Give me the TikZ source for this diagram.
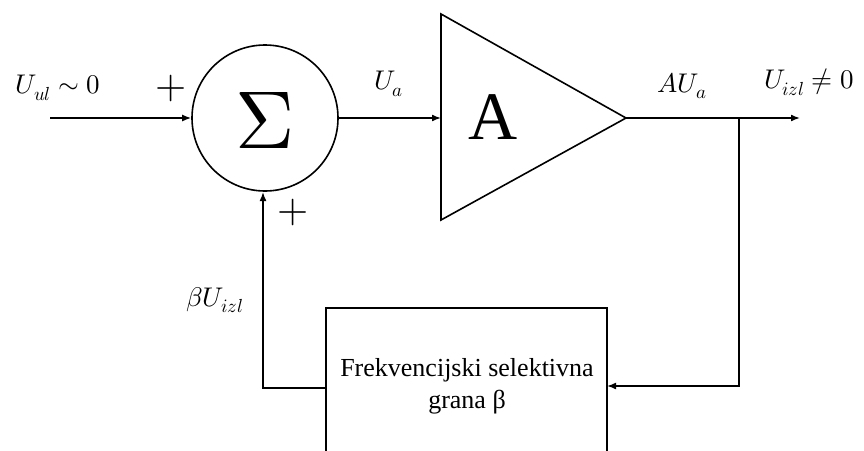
\documentclass[tikz,border=0pt]{standalone}
\usepackage{fontspec}
\usepackage{unicode-math}
\setmainfont{Liberation Serif}
\setmathfont{Latin Modern Math}
\usetikzlibrary{arrows.meta}
\begin{document}
\begin{tikzpicture}[x=1pt,y=-1pt,
  line/.style={line width=1.6pt},
  arr/.style={line width=1.6pt,-{Latex[length=9pt,width=7pt]}},
  lbl/.style={inner sep=0pt,font=\fontsize{27}{30}\selectfont},
  plus/.style={inner sep=0pt,font=\fontsize{40}{40}\selectfont}]
\useasboundingbox (0,0) rectangle (864,450);
% nodes
\node[draw,circle,line width=1.6pt,minimum size=146pt,inner sep=0pt] (sum) at (265,118) {};
\node[inner sep=0pt] (sig) at (265,120) {\fontsize{82}{82}\selectfont$\Sigma$};
\coordinate (tl) at (441,14);
\coordinate (tb) at (441,220);
\coordinate (tip) at (626,118);
\draw[line,line join=miter] (tl) -- (tip) -- (tb) -- cycle;
\coordinate (ain) at (441,118);
\node[inner sep=0pt] (A) at (493,117) {\fontsize{68}{68}\selectfont A};
\coordinate (box1) at (326,308);
\coordinate (box2) at (607,470);
\draw[line] (box1) rectangle (box2);
\node[inner sep=0pt,align=center,font=\fontsize{26}{32}\selectfont] (btxt) at (467,386) {Frekvencijski selektivna\\grana β};
\coordinate (in) at (50,118);
\coordinate (out) at (800,118);
\coordinate (junc) at (739,118);
\coordinate (jdown) at (739,386);
\coordinate (bin) at (607,386);
\coordinate (bout) at (326,388);
\coordinate (fbc) at (263,388);
% connectors
\draw[arr] (in) -- (sum.west);
\draw[arr] (sum.east) -- (ain);
\draw[arr] (tip) -- (out);
\draw[arr] (junc) -- (jdown) -- (bin);
\draw[arr] (bout) -- (fbc) -- (263,192);
% labels
\node[lbl] (lin) at (58,88) {$U_{ul}\sim 0$};
\node[plus] (lp1) at (171,88) {$+$};
\node[plus] (lp2) at (293,212) {$+$};
\node[lbl] (lua) at (389,84) {$U_a$};
\node[lbl] (laua) at (682,86) {$AU_a$};
\node[lbl] (lout) at (809,82) {$U_{izl}\neq 0$};
\node[lbl] (lfb) at (215,300) {$\beta U_{izl}$};
\end{tikzpicture}
\end{document}
